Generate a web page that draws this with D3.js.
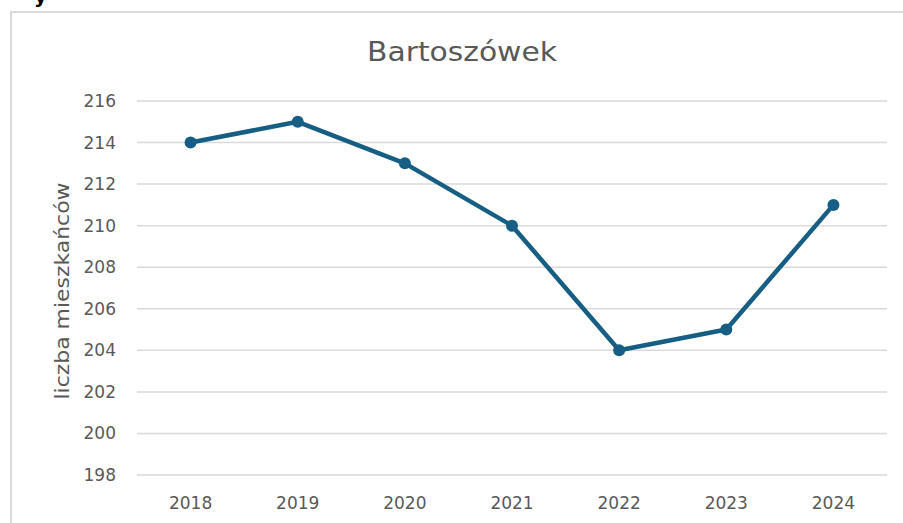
<!DOCTYPE html>
<html><head><meta charset="utf-8">
<script src="https://cdn.jsdelivr.net/npm/d3@7"></script>
<style>body{margin:0;background:#fff;}svg{display:block;font-family:"DejaVu Sans",sans-serif;}</style>
</head><body>
<script>
const categories = ["2018","2019","2020","2021","2022","2023","2024"];
const values = [214,215,213,210,204,205,211];
const yTicks = [198,200,202,204,206,208,210,212,214,216];
const title = "Bartoszówek";
const yTitle = "liczba mieszkańców";

const W = 903, H = 523;
const FONT = "'DejaVu Sans',sans-serif";
const svg = d3.select("body").append("svg").attr("width", W).attr("height", H);

// chart frame
svg.append("rect").attr("x", 11).attr("y", 12).attr("width", 1000).attr("height", 600)
  .attr("fill", "#fff").attr("stroke", "#d9d9d9").attr("stroke-width", 2);
// cropped fragment above
svg.append("text").attr("x", 34).attr("y", 3).attr("font-size", 20).attr("font-weight", "bold")
  .attr("fill", "#000").text("y");

const x = d3.scaleBand().domain(categories).range([137, 887]);
const y = d3.scaleLinear().domain([198, 216]).range([475, 101]);

// gridlines
svg.append("g").selectAll("line").data(yTicks).join("line")
  .attr("x1", 137).attr("x2", 887)
  .attr("y1", d => y(d)).attr("y2", d => y(d))
  .attr("stroke", "#d9d9d9").attr("stroke-width", 1.5);

// y axis
const ya = svg.append("g").attr("transform", "translate(137,0)")
  .call(d3.axisLeft(y).tickValues(yTicks).tickSize(0).tickPadding(21));
ya.select(".domain").remove();
ya.selectAll("text").attr("font-size", 17).attr("fill", "#595959").attr("font-family", FONT);

// x axis
const xa = svg.append("g").attr("transform", "translate(0,475)")
  .call(d3.axisBottom(x).tickSize(0).tickPadding(22));
xa.select(".domain").remove();
xa.selectAll("text").attr("font-size", 17).attr("fill", "#595959").attr("font-family", FONT);

// title
svg.append("text").attr("x", 462).attr("y", 61).attr("text-anchor", "middle")
  .attr("font-size", 27).attr("fill", "#595959")
  .attr("textLength", 190).attr("lengthAdjust", "spacingAndGlyphs").text(title);

// y title
svg.append("text").attr("transform", "translate(69,291) rotate(-90)")
  .attr("text-anchor", "middle").attr("font-size", 19).attr("fill", "#595959")
  .attr("textLength", 217).attr("lengthAdjust", "spacingAndGlyphs").text(yTitle);

const cx = d => x(d) + x.bandwidth() / 2;
const line = d3.line().x((d, i) => cx(categories[i])).y(d => y(d));
svg.append("path").datum(values).attr("d", line).attr("fill", "none")
  .attr("stroke", "#165e83").attr("stroke-width", 4.5).attr("stroke-linejoin", "round");
svg.append("g").selectAll("circle").data(values).join("circle")
  .attr("cx", (d, i) => cx(categories[i])).attr("cy", d => y(d)).attr("r", 6)
  .attr("fill", "#165e83");
</script>
</body></html>
